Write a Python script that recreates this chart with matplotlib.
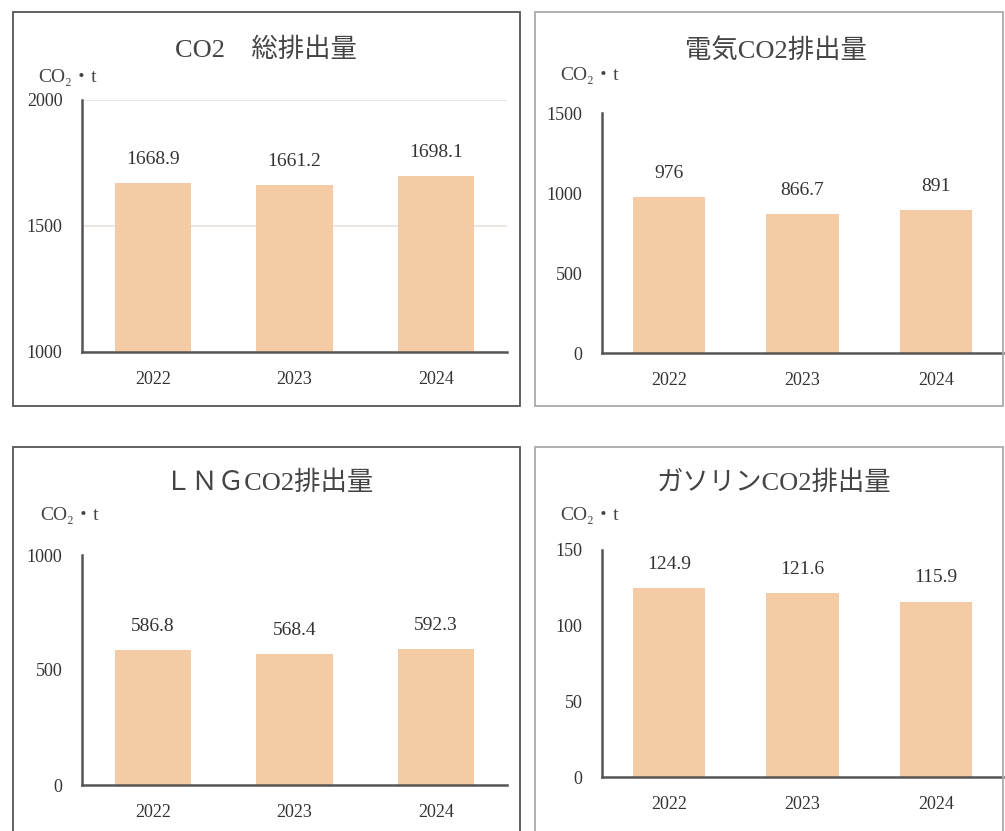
import matplotlib
matplotlib.use("Agg")
import matplotlib.pyplot as plt
from matplotlib.patches import Rectangle

W, H = 1005, 831

years = ["2022", "2023", "2024"]
total_co2 = [1668.9, 1661.2, 1698.1]
elec_co2 = [976, 866.7, 891]
lng_co2 = [586.8, 568.4, 592.3]
gas_co2 = [124.9, 121.6, 115.9]

titles = ["CO2　総排出量", "電気CO2排出量", "ＬＮＧCO2排出量", "ガソリンCO2排出量"]
unit = "CO₂・t"

bar_color = "#F5CBA6"
axis_color = "#555555"
fam = ["Liberation Serif", "Noto Sans CJK JP", "DejaVu Sans"]

plt.rcParams["font.family"] = fam

fig = plt.figure(figsize=(W / 100, H / 100), dpi=100)


def px_rect(x0, y0, x1, y1):
    # pixel box (top-left origin) -> figure fraction [left, bottom, width, height]
    return [x0 / W, 1 - y1 / H, (x1 - x0) / W, (y1 - y0) / H]


def frame(x0, y0, x1, y1, color):
    l, b, w, h = px_rect(x0, y0, x1, y1)
    fig.add_artist(Rectangle((l, b), w, h, transform=fig.transFigure,
                             fill=False, edgecolor=color, lw=1.3))


def label(x, y, s, **kw):
    fig.text(x / W, 1 - y / H, s, **kw)


# panel frames
frame(13, 12, 520, 406, "#555555")
frame(535, 12, 1003, 406, "#aaaaaa")
frame(13, 447, 520, 840, "#555555")
frame(535, 447, 1003, 840, "#aaaaaa")

panels = [
    # data, axes box (px), ylim, yticks, grid, title pos, unit pos
    (total_co2, (82, 100, 507, 352), (1000, 2000), [1000, 1500, 2000], True, (266, 50), (38, 78)),
    (elec_co2, (602, 113, 1003, 353), (0, 1500), [0, 500, 1000, 1500], False, (776, 50), (560, 76)),
    (lng_co2, (82, 555, 507, 785), (0, 1000), [0, 500, 1000], False, (269, 483), (40, 515)),
    (gas_co2, (602, 550, 1003, 777), (0, 150), [0, 50, 100, 150], False, (774, 483), (560, 515)),
]

for i, (vals, box, ylim, yticks, grid, tpos, upos) in enumerate(panels):
    ax = fig.add_axes(px_rect(*box))
    x = range(len(years))
    ax.bar(x, vals, width=0.54, color=bar_color, zorder=2)
    ax.set_xlim(-0.5, len(years) - 0.5)
    ax.set_ylim(*ylim)
    ax.set_yticks(yticks)
    ax.set_xticks(list(x))
    ax.set_xticklabels(years)
    ax.tick_params(length=0, pad=14, labelsize=13, colors="#333333")
    for s in ["top", "right"]:
        ax.spines[s].set_visible(False)
    for s in ["left", "bottom"]:
        ax.spines[s].set_color(axis_color)
        ax.spines[s].set_linewidth(1.8)
        ax.spines[s].set_zorder(3)
    if grid:
        ax.yaxis.grid(True, color="#ece6e2", lw=1.5, zorder=0)
    ax.set_facecolor("none")
    for xi, v in zip(x, vals):
        ax.annotate(f"{v:g}", (xi, v), xytext=(0, 17), textcoords="offset points",
                    ha="center", va="center", fontsize=14, color="#333333")
    label(tpos[0], tpos[1], titles[i], ha="center", va="center", fontsize=19, color="#444444")
    label(upos[0], upos[1], unit, ha="left", va="center", fontsize=14, color="#444444")

fig.savefig("out.png", dpi=100, facecolor="white")
